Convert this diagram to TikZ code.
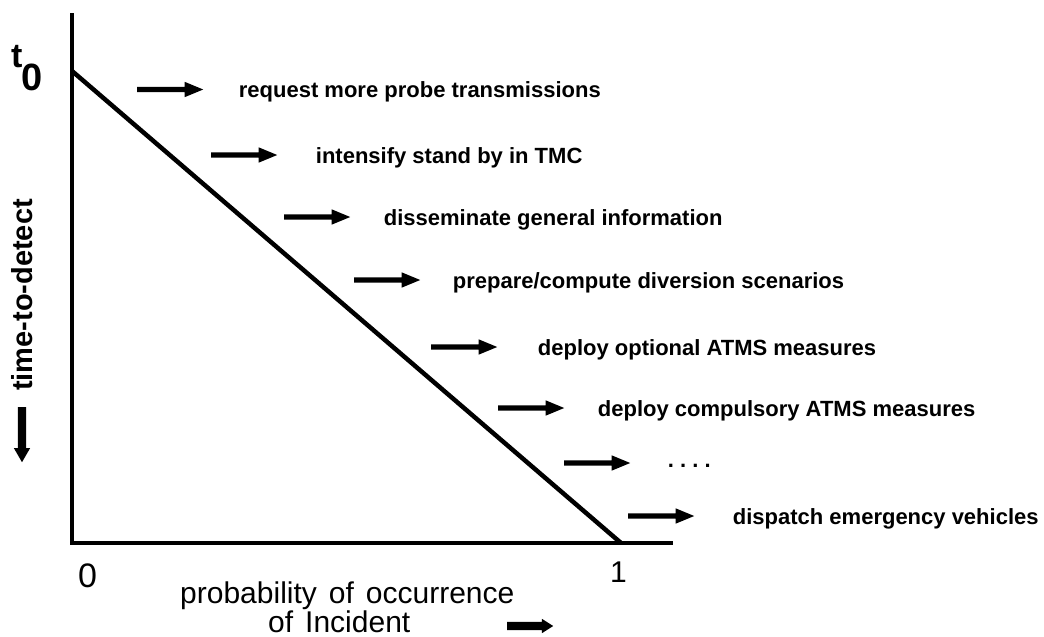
\documentclass[tikz,border=0pt]{standalone}
\usepackage{fontspec}
\setmainfont{Liberation Sans}
\usetikzlibrary{shapes.arrows}

\begin{document}
\begin{tikzpicture}[x=1pt, y=-1pt,
    action/.style={anchor=base west, inner sep=0pt, font=\bfseries\fontsize{22}{26}\selectfont},
    axislabel/.style={anchor=base west, inner sep=0pt, font=\fontsize{30}{36}\selectfont},
    fat_arrow/.style={fill=black, single arrow, single arrow tip angle=45,
        single arrow head extend=5pt, minimum height=66pt,
        inner xsep=0pt, inner ysep=2.5pt, anchor=tail}
]
    \useasboundingbox (0, 0) rectangle (1044, 637);

    % axes and the line from t0 down to 1
    \coordinate (y_top) at (72, 13);
    \coordinate (origin) at (72, 543);
    \coordinate (x_end) at (673, 543);
    \coordinate (t0_point) at (72, 71);
    \coordinate (one_point) at (621, 543);
    \draw[line width=3.5pt] (y_top) -- (origin) -- (x_end);
    \draw[line width=4.5pt] (t0_point) -- (one_point);

    \node (t0) at (11, 67) [anchor=base west, inner sep=0pt, font=\bfseries\fontsize{34}{40}\selectfont]
        {t\kern-1pt\raisebox{-23pt}{\fontsize{38}{44}\selectfont 0}};

    % actions
    \node (request_arrow) at (137, 89.5) [fat_arrow] {};
    \path (request_arrow.tip) + (35, 8) node[action] (request) {request more probe transmissions};
    \node (intensify_arrow) at (211, 155) [fat_arrow] {};
    \path (intensify_arrow.tip) + (38, 8) node[action] (intensify) {intensify stand by in TMC};
    \node (disseminate_arrow) at (284, 217) [fat_arrow] {};
    \path (disseminate_arrow.tip) + (33, 8) node[action] (disseminate) {disseminate general information};
    \node (prepare_arrow) at (354, 280) [fat_arrow] {};
    \path (prepare_arrow.tip) + (32, 8) node[action] (prepare) {prepare/compute diversion scenarios};
    \node (optional_arrow) at (431, 347) [fat_arrow] {};
    \path (optional_arrow.tip) + (40, 8) node[action] (optional) {deploy optional ATMS measures};
    \node (compulsory_arrow) at (498, 408) [fat_arrow] {};
    \path (compulsory_arrow.tip) + (33, 8) node[action] (compulsory) {deploy compulsory ATMS measures};
    \node (more_arrow) at (564, 463) [fat_arrow] {};
    \path (more_arrow.tip) + (37, 4) node[action] (more) {.\ .\ .\ .};
    \node (dispatch_arrow) at (628, 516) [fat_arrow] {};
    \path (dispatch_arrow.tip) + (38, 8) node[action] (dispatch) {dispatch emergency vehicles};

    % axis labels
    \node (time_label) at (22, 295) [rotate=90, inner sep=0pt, font=\bfseries\fontsize{29}{34}\selectfont] {time-to-detect};
    \node (time_arrow) at (22, 407) [fat_arrow, rotate=270, minimum height=55pt,
        inner ysep=4pt, single arrow head extend=4pt, single arrow tip angle=60] {};

    \path (origin) + (6, 44) node[axislabel, font=\fontsize{34}{40}\selectfont] (zero) {0};
    \path (one_point) + (-11, 39) node[axislabel] (one) {1};
    \path (origin) + (108, 60) node[axislabel] (probability) {probability\hspace{12pt}of\hspace{12pt}occurrence};
    \path (origin) + (196, 89) node[axislabel] (incident) {of\hspace{12pt}Incident};
    \node (probability_arrow) at (507, 626) [fat_arrow, minimum height=46pt,
        inner ysep=4pt, single arrow head extend=3pt, single arrow tip angle=65] {};
\end{tikzpicture}
\end{document}
